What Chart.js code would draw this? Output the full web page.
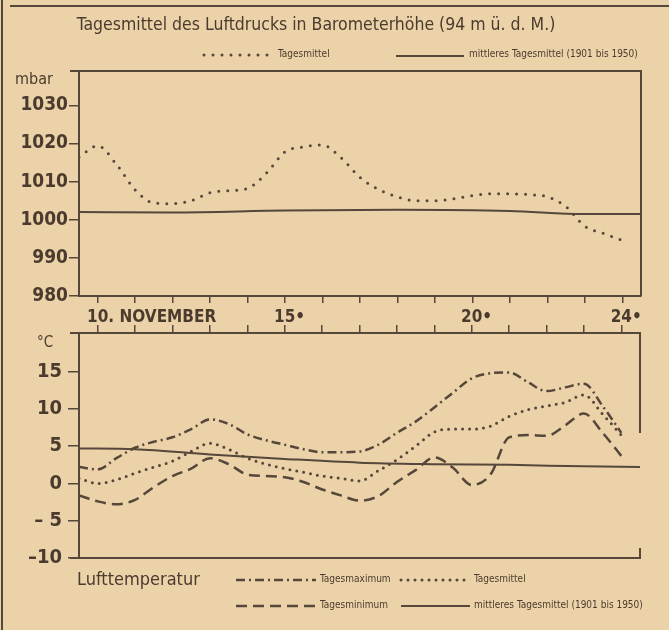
<!DOCTYPE html>
<html><head><meta charset="utf-8">
<script src="https://cdn.jsdelivr.net/npm/chart.js@4/dist/chart.umd.min.js"></script>
<style>
html,body{margin:0;padding:0;background:#ebd2a8;}
#wrap{position:relative;width:669px;height:630px;overflow:hidden;}
canvas{position:absolute;left:0;top:0;}
</style></head><body>
<div id="wrap"><canvas id="p" width="669" height="630"></canvas><canvas id="t" width="669" height="630"></canvas></div>
<script>
// ---------- data ----------
const days = [9.5,10,10.5,11,11.5,12,12.5,13,13.5,14,14.5,15,15.5,16,16.5,17,17.5,18,18.5,19,19.5,20,20.5,21,21.5,22,22.5,23,23.5,24];
const pressureMean = [1016.4,1019.4,1014.5,1007.8,1004.4,1004.2,1005.0,1007.1,1007.6,1008.2,1012.2,1017.8,1019.1,1019.6,1016.2,1011.1,1007.9,1006.0,1005.0,1005.0,1005.5,1006.3,1006.8,1006.8,1006.6,1006.0,1003.4,998.3,996.4,994.6];
const pressureNormalDays = [9.5,12,15,18,21,23,24.5];
const pressureNormal = [1002.0,1001.9,1002.4,1002.6,1002.3,1001.5,1001.5];
const tempMax  = [2.2,1.9,3.4,4.8,5.6,6.2,7.3,8.6,8.0,6.6,5.8,5.2,4.6,4.2,4.2,4.3,5.2,6.8,8.3,10.2,12.2,14.1,14.8,14.9,13.6,12.4,12.9,13.4,10.4,6.8];
const tempMean = [0.7,0.0,0.5,1.4,2.2,3.0,4.3,5.4,4.6,3.4,2.6,2.0,1.5,1.0,0.7,0.35,1.7,3.2,5.0,6.9,7.3,7.3,7.7,9.0,9.9,10.4,10.9,11.9,9.3,6.5];
const tempMin  = [-1.6,-2.4,-2.8,-2.2,-0.5,1.0,2.0,3.4,2.6,1.2,1.0,0.85,0.2,-0.8,-1.6,-2.3,-1.7,0.2,1.8,3.5,2.1,-0.2,1.2,6.2,6.5,6.4,7.8,9.4,6.8,3.7];
const tempNormalDays = [9.5,11,13,15,17,19,21,23,24.5];
const tempNormal = [4.7,4.6,3.9,3.3,2.8,2.6,2.5,2.3,2.2];
const pressureTicks = [980,990,1000,1010,1020,1030];
const tempTicks = [-10,-5,0,5,10,15];
const tempTickLabels = ['\u201310','\u2013 5','0','5','10','15'];
const dayLabelDays = [10,15,20,24];
const dayLabelTexts = ['10. NOVEMBER','15\u2022','20\u2022','24\u2022'];

const TITLE = 'Tagesmittel des Luftdrucks in Barometerh\u00f6he (94 m \u00fc. d. M.)';
const INK = '#56473b';
const TXT = '#4a3b2e';
const FN = '"Liberation Sans Narrow","DejaVu Sans Condensed","Roboto Condensed",sans-serif';

const pts = (xs, ys) => xs.map((x,i)=>({x, y: ys[i]}));

const STY = {
  pDot:  {w:3,   dash:[0,9],       cap:'round'},
  tDot:  {w:3,   dash:[0,7],       cap:'round'},
  dashDot:{w:2.5,dash:[9,4,2,4],   cap:'butt'},
  dashed:{w:2.5, dash:[11,6],      cap:'butt'},
  solid: {w:2,   dash:[],          cap:'butt'}
};
function ds(label, data, s){
  return {label, data, borderColor:INK, borderWidth:s.w, borderDash:s.dash, borderCapStyle:s.cap,
    pointRadius:0, fill:false, tension:0.4, cubicInterpolationMode:'monotone'};
}
function sample(ctx, x1, x2, y, s){
  ctx.save(); ctx.strokeStyle=INK; ctx.lineWidth=s.w; ctx.setLineDash(s.dash); ctx.lineCap=s.cap;
  ctx.beginPath(); ctx.moveTo(x1,y); ctx.lineTo(x2,y); ctx.stroke(); ctx.restore();
}
function txt(ctx, s, x, y, font, align){
  ctx.save(); ctx.fillStyle=TXT; ctx.font=font; ctx.textAlign=align||'left'; ctx.textBaseline='middle';
  ctx.fillText(s, x, y); ctx.restore();
}

const decorTop = {
  id:'decorTop',
  afterDraw(chart){
    const {ctx, chartArea:a} = chart;
    ctx.save();
    ctx.strokeStyle=INK; ctx.lineWidth=2;
    ctx.beginPath(); ctx.moveTo(2,0); ctx.lineTo(2,630); ctx.moveTo(10,6); ctx.lineTo(669,6); ctx.stroke();
    ctx.beginPath(); ctx.moveTo(a.left-9,a.top); ctx.lineTo(a.right,a.top); ctx.lineTo(a.right,a.bottom); ctx.stroke();
    ctx.restore();
    txt(ctx, TITLE, 316, 25, '17.5px '+FN, 'center');
    sample(ctx, 204, 272, 55, STY.pDot);
    txt(ctx, 'Tagesmittel', 278, 54, '10px '+FN);
    sample(ctx, 396, 464, 56, STY.solid);
    txt(ctx, 'mittleres Tagesmittel (1901 bis 1950)', 469, 54, '10px '+FN);
    txt(ctx, 'mbar', 15, 80, '16px '+FN);
  }
};

const decorBottom = {
  id:'decorBottom',
  afterDraw(chart){
    const {ctx, chartArea:a, scales} = chart;
    ctx.save();
    ctx.strokeStyle=INK; ctx.lineWidth=2;
    ctx.beginPath(); ctx.moveTo(a.left-9,a.top); ctx.lineTo(a.right,a.top);
    ctx.lineTo(a.right,a.top+100); ctx.moveTo(a.right,a.bottom-10); ctx.lineTo(a.right,a.bottom); ctx.lineTo(a.left-9,a.bottom); ctx.stroke();
    ctx.restore();
    // day labels between panels
    ctx.save(); ctx.font='bold 17px '+FN; ctx.fillStyle=TXT; ctx.textBaseline='middle';
    dayLabelDays.forEach((d,i)=>{
      const t = dayLabelTexts[i];
      const num = t.match(/^\d+/)[0];
      const w = ctx.measureText(num).width;
      ctx.fillText(t, scales.x.getPixelForValue(d) - w/2, 318);
    });
    ctx.restore();
    txt(ctx, '\u00b0C', 37, 343, '15px '+FN);
    txt(ctx, 'Lufttemperatur', 77, 580, '18px '+FN);
    sample(ctx, 236, 316, 580, STY.dashDot);
    txt(ctx, 'Tagesmaximum', 320, 579, '10px '+FN);
    sample(ctx, 401, 469, 580, STY.tDot);
    txt(ctx, 'Tagesmittel', 474, 579, '10px '+FN);
    sample(ctx, 236, 316, 606, STY.dashed);
    txt(ctx, 'Tagesminimum', 320, 605, '10px '+FN);
    sample(ctx, 401, 470, 606, STY.solid);
    txt(ctx, 'mittleres Tagesmittel (1901 bis 1950)', 474, 605, '10px '+FN);
  }
};

const common = {responsive:false, animation:false, devicePixelRatio:1,
  plugins:{legend:{display:false}, title:{display:false}, tooltip:{enabled:false}}};

new Chart(document.getElementById('p'), {
  type:'line',
  data:{datasets:[
    ds('Tagesmittel', pts(days, pressureMean), STY.pDot),
    ds('mittleres Tagesmittel (1901 bis 1950)', pts(pressureNormalDays, pressureNormal), STY.solid)
  ]},
  options:{...common,
    layout:{padding:{left:0, top:71, right:28, bottom:327}},
    scales:{
      x:{type:'linear', min:9.5, max:24.5, position:'bottom',
        afterBuildTicks(s){ s.ticks = days.filter(d=>Number.isInteger(d)).map(v=>({value:v})); },
        ticks:{display:false},
        grid:{drawOnChartArea:false, drawTicks:true, tickLength:7, color:INK, lineWidth:1.5},
        border:{display:true, color:INK, width:2},
        afterFit(s){ s.height=7; }},
      y:{type:'linear', min:980, max:1039,
        afterBuildTicks(s){ s.ticks = pressureTicks.map(v=>({value:v})); },
        ticks:{font:{family:FN, size:19, weight:'bold'}, color:TXT, padding:1, callback:(v)=>String(v)},
        grid:{drawOnChartArea:false, drawTicks:true, tickLength:10, color:INK, lineWidth:1.5},
        border:{display:true, color:INK, width:2},
        afterFit(s){ s.width=79; }}
    }},
  plugins:[decorTop]
});

new Chart(document.getElementById('t'), {
  type:'line',
  data:{datasets:[
    ds('Tagesmaximum', pts(days, tempMax), STY.dashDot),
    ds('Tagesmittel', pts(days, tempMean), STY.tDot),
    ds('Tagesminimum', pts(days, tempMin), STY.dashed),
    ds('mittleres Tagesmittel (1901 bis 1950)', pts(tempNormalDays, tempNormal), STY.solid)
  ]},
  options:{...common,
    layout:{padding:{left:0, top:325, right:29, bottom:72}},
    scales:{
      x:{type:'linear', min:9.5, max:24.5, position:'top',
        afterBuildTicks(s){ s.ticks = days.filter(d=>Number.isInteger(d)).map(v=>({value:v})); },
        ticks:{display:false},
        grid:{drawOnChartArea:false, drawTicks:true, tickLength:8, color:INK, lineWidth:1.5},
        border:{display:true, color:INK, width:2},
        afterFit(s){ s.height=8; }},
      y:{type:'linear', min:-10, max:20.2,
        afterBuildTicks(s){ s.ticks = tempTicks.map(v=>({value:v})); },
        ticks:{font:{family:FN, size:20, weight:'bold'}, color:TXT, padding:6,
          callback:(v)=>tempTickLabels[tempTicks.indexOf(v)]},
        grid:{drawOnChartArea:false, drawTicks:true, tickLength:11, color:INK, lineWidth:1.5},
        border:{display:true, color:INK, width:2},
        afterFit(s){ s.width=79; }}
    }},
  plugins:[decorBottom]
});
</script>
</body></html>
